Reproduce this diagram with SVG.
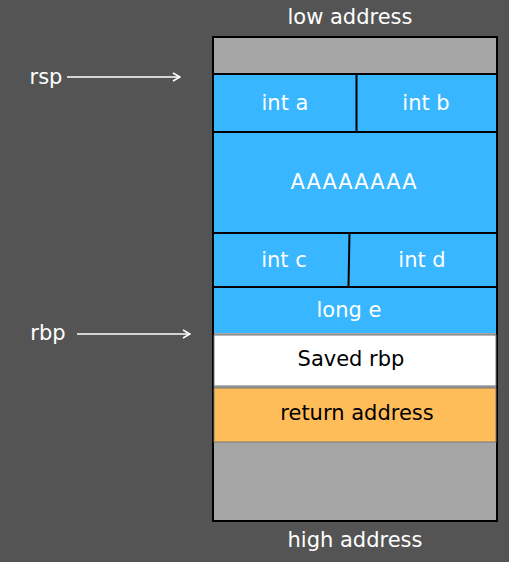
<svg xmlns="http://www.w3.org/2000/svg" width="509" height="562" viewBox="0 0 509 562">
<defs>
<marker id="arr" viewBox="0 0 10 10" refX="9" refY="5" markerWidth="10" markerHeight="10" markerUnits="userSpaceOnUse" orient="auto">
<path d="M2,1 L9,5 L2,9" fill="none" stroke="#ffffff" stroke-width="1.6"/>
</marker>
</defs>
<style>
text{font-family:"DejaVu Sans","Open Sans",sans-serif;font-size:21px;text-anchor:middle;dominant-baseline:central}
.w{fill:#ffffff}
.b{fill:#000000}
.blue{fill:#38b6ff}
.line{stroke:#000000;stroke-width:2}
</style>
<rect x="0" y="0" width="509" height="562" fill="#545454"/>
<text class="w" x="350" y="17">low address</text>
<text class="w" x="355" y="540">high address</text>
<g id="stack">
<rect x="213" y="37" width="284" height="484" fill="#a6a6a6" stroke="#000" stroke-width="2"/>
</g>
<g id="top-gray"><rect x="214" y="38" width="282" height="36" fill="#a6a6a6"/></g>
<g id="int-a"><rect class="blue" x="214" y="75" width="142" height="57"/><text class="w" x="285" y="103">int a</text></g>
<g id="int-b"><rect class="blue" x="357" y="75" width="139" height="57"/><text class="w" x="426" y="103">int b</text></g>
<g id="buf"><rect class="blue" x="214" y="133" width="282" height="100"/><text class="w" x="354" y="182" style="letter-spacing:1px">AAAAAAAA</text></g>
<g id="int-c"><rect class="blue" x="214" y="234" width="135" height="53"/><text class="w" x="284" y="260">int c</text></g>
<g id="int-d"><rect class="blue" x="350" y="234" width="146" height="53"/><text class="w" x="422" y="260">int d</text></g>
<g id="long-e"><rect class="blue" x="214" y="288" width="282" height="45"/><text class="w" x="349" y="310">long e</text></g>
<g id="saved-rbp"><rect x="214" y="335" width="282" height="51" fill="#ffffff" stroke="#777" stroke-width="1"/><text class="b" x="351" y="359">Saved rbp</text></g>
<g id="ret"><rect x="214" y="388" width="282" height="54" fill="#ffbd59" stroke="#777" stroke-width="1"/><text class="b" x="357" y="413">return address</text></g>
<g id="bottom-gray"><rect x="214" y="443" width="282" height="77" fill="#a6a6a6"/></g>
<g id="dividers">
<line class="line" x1="214" y1="74" x2="497" y2="74"/>
<line class="line" x1="214" y1="132" x2="496" y2="132"/>
<line class="line" x1="356.5" y1="74" x2="356.5" y2="132"/>
<line class="line" x1="214" y1="233" x2="496" y2="233"/>
<line class="line" x1="349.5" y1="233" x2="348.5" y2="287"/>
<line class="line" x1="214" y1="287" x2="497" y2="287"/>
</g>
<g id="rsp"><text class="w" x="46" y="77">rsp</text></g>
<g id="rbp"><text class="w" x="48" y="333">rbp</text></g>
<g id="connectors">
<line x1="67" y1="77" x2="180" y2="77" stroke="#fff" stroke-width="1.6" marker-end="url(#arr)"/>
<line x1="77" y1="334" x2="190" y2="334" stroke="#fff" stroke-width="1.6" marker-end="url(#arr)"/>
</g>
</svg>
